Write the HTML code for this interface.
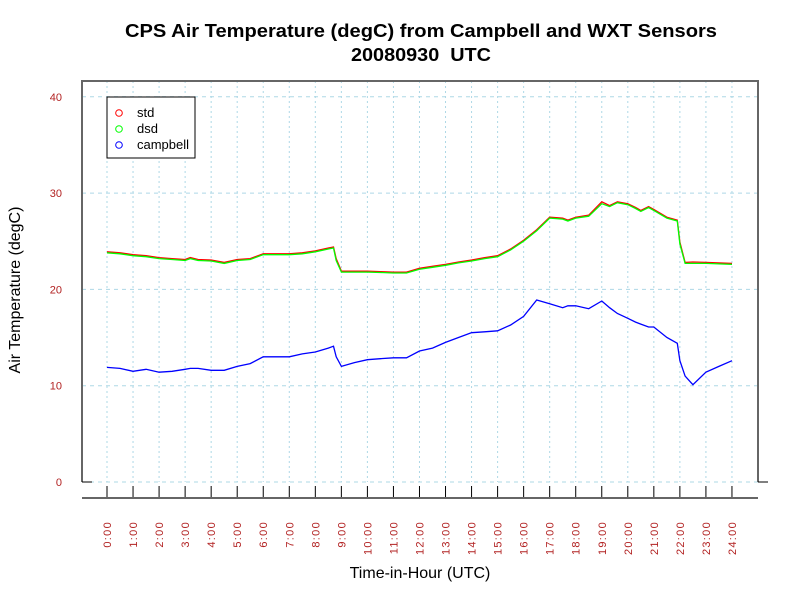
<!DOCTYPE html>
<html><head><meta charset="utf-8"><style>
body{margin:0;background:#fff;}
svg{display:block;font-family:"Liberation Sans",Arial,sans-serif;}
</style></head><body>
<svg id="chart" width="800" height="600" viewBox="0 0 800 600" xmlns="http://www.w3.org/2000/svg">
<rect width="800" height="600" fill="#fff"/>
<text x="421" y="37" text-anchor="middle" font-size="18" font-weight="bold" textLength="592" lengthAdjust="spacingAndGlyphs">CPS Air Temperature (degC) from Campbell and WXT Sensors</text>
<text x="421" y="61" text-anchor="middle" font-size="18" font-weight="bold" textLength="140" lengthAdjust="spacingAndGlyphs" xml:space="preserve">20080930  UTC</text>
<g id="grid"></g>
<g id="axes"></g>
<g id="series"></g>
<text transform="translate(20,290) rotate(-90)" text-anchor="middle" font-size="16">Air Temperature (degC)</text>
<text x="420" y="578" text-anchor="middle" font-size="16">Time-in-Hour (UTC)</text>
<g>
<rect x="107" y="97" width="88" height="61" fill="#fff" stroke="#000" stroke-width="1"/>
<circle cx="119" cy="113" r="3.3" fill="none" stroke="#f00"/>
<text x="137" y="117" font-size="13">std</text>
<circle cx="119" cy="129" r="3.3" fill="none" stroke="#0f0"/>
<text x="137" y="133" font-size="13">dsd</text>
<circle cx="119" cy="145" r="3.3" fill="none" stroke="#00f"/>
<text x="137" y="149" font-size="13">campbell</text>
</g>
</svg>
<script>
const hours=[0,0.5,1,1.5,2,2.5,3,3.2,3.5,4,4.5,5,5.5,6,6.5,7,7.5,8,8.5,8.7,8.8,9,9.5,10,10.5,11,11.5,12,12.5,13,13.5,14,14.5,15,15.5,16,16.5,17,17.5,17.7,18,18.5,19,19.3,19.6,20,20.3,20.5,20.8,21,21.5,21.9,22,22.2,22.5,23,23.5,24];
const stdVals=[23.9,23.8,23.6,23.5,23.3,23.2,23.1,23.3,23.1,23.05,22.8,23.1,23.2,23.7,23.7,23.7,23.8,24.0,24.3,24.4,23.2,21.9,21.9,21.9,21.85,21.8,21.8,22.2,22.4,22.6,22.85,23.05,23.3,23.5,24.2,25.1,26.2,27.5,27.4,27.2,27.5,27.7,29.1,28.7,29.1,28.9,28.5,28.2,28.6,28.3,27.5,27.2,24.9,22.8,22.85,22.8,22.75,22.7];
const dsdVals=[23.8,23.7,23.5,23.4,23.2,23.1,23.0,23.2,23.0,22.95,22.7,23.0,23.1,23.6,23.6,23.6,23.7,23.9,24.2,24.3,23.0,21.8,21.8,21.8,21.75,21.7,21.7,22.1,22.3,22.5,22.75,22.95,23.2,23.4,24.1,25.0,26.1,27.4,27.3,27.1,27.4,27.6,28.9,28.6,29.0,28.8,28.4,28.1,28.5,28.2,27.4,27.1,24.7,22.7,22.7,22.7,22.65,22.6];
const campVals=[11.9,11.8,11.5,11.7,11.4,11.5,11.7,11.8,11.8,11.6,11.6,12.0,12.3,13.0,13.0,13.0,13.3,13.5,13.9,14.1,13.0,12.0,12.4,12.7,12.8,12.9,12.9,13.6,13.9,14.5,15.0,15.5,15.6,15.7,16.3,17.2,18.9,18.5,18.1,18.3,18.3,18.0,18.8,18.1,17.5,17.0,16.6,16.4,16.1,16.1,15.0,14.4,12.6,11.0,10.1,11.4,12.0,12.6];
const yTicks=[0,10,20,30,40];
const xTickLabels=["0:00","1:00","2:00","3:00","4:00","5:00","6:00","7:00","8:00","9:00","10:00","11:00","12:00","13:00","14:00","15:00","16:00","17:00","18:00","19:00","20:00","21:00","22:00","23:00","24:00"];

const NS="http://www.w3.org/2000/svg";
const X0=107,XW=26.04,Y0=482,YS=9.63;
const xs=h=>X0+h*XW, ys=v=>Y0-v*YS;
function mk(tag,attrs,parent){const e=document.createElementNS(NS,tag);for(const k in attrs)e.setAttribute(k,attrs[k]);parent.appendChild(e);return e;}
const grid=document.getElementById('grid'),axes=document.getElementById('axes'),series=document.getElementById('series');
yTicks.forEach(v=>{
  const l=mk('line',{x1:82,x2:758,y1:ys(v),y2:ys(v),stroke:'#add8e6','stroke-dasharray':'4,4'},grid);
  
  
  const t=mk('text',{x:62,y:ys(v)+4,'text-anchor':'end','font-size':'11',fill:'#b22222'},axes);
  t.textContent=v;
  
  
});
xTickLabels.forEach((lab,i)=>{
  const x=xs(i);
  const g=mk('line',{x1:x,x2:x,y1:81,y2:482,stroke:'#add8e6','stroke-dasharray':'2,3'},grid);
  
  
  const tk=mk('line',{x1:x,x2:x,y1:486,y2:498,stroke:'#000'},axes);
  
  
  const t=mk('text',{transform:`translate(${x+4},521) rotate(-90)`,'text-anchor':'end','font-size':'11',fill:'#b22222','letter-spacing':'1.3'},axes);
  t.textContent=lab;
  
  
});
const frame=mk('path',{d:'M82,482 L82,81 L758,81 L758,482',fill:'none',stroke:'#666','stroke-width':'2'},axes);


mk('line',{x1:82,x2:92,y1:482,y2:482,stroke:'#000'},axes);
mk('line',{x1:758,x2:768,y1:482,y2:482,stroke:'#000'},axes);
const xa=mk('line',{x1:82,x2:758,y1:498,y2:498,stroke:'#666','stroke-width':'2'},axes);


function line(vals,color,name){
  const p=mk('polyline',{points:vals.map((v,i)=>xs(hours[i]).toFixed(1)+','+ys(v).toFixed(1)).join(' '),fill:'none',stroke:color,'stroke-width':'1.3'},series);
  
  
}
line(campVals,'#00f','campbell-line');
line(stdVals,'#f00','std-line');
line(dsdVals,'#0f0','dsd-line');
</script>
</body></html>
